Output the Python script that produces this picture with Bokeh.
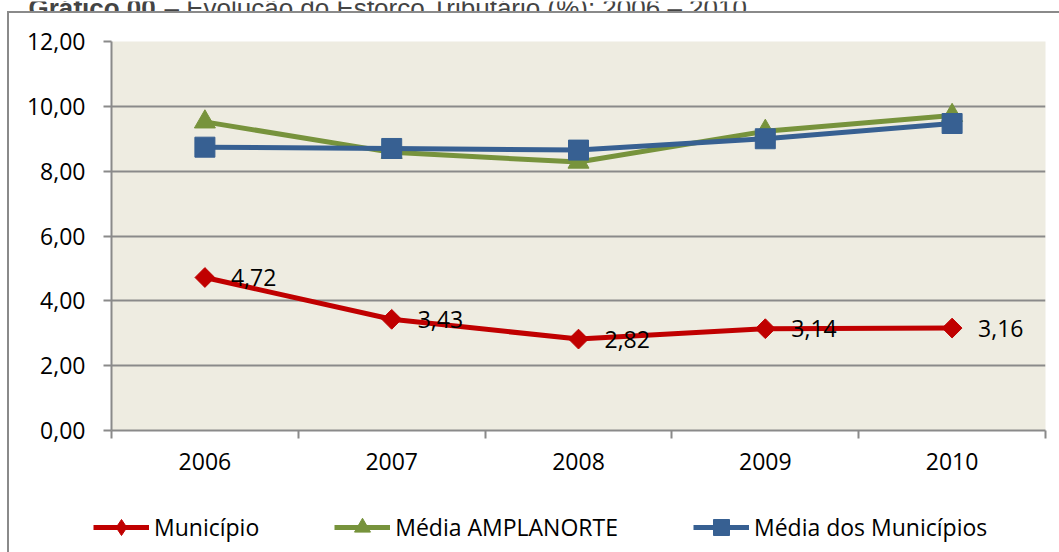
import numpy as np
from bokeh.plotting import figure
from bokeh.layouts import column
from bokeh.models import (Range1d, FixedTicker, Legend, LegendItem, ColumnDataSource, Label)
from bokeh.core.properties import value
from bokeh.embed import file_html
from bokeh.resources import INLINE

# ---- data ----
years = ["2006", "2007", "2008", "2009", "2010"]
municipio = [4.72, 3.43, 2.82, 3.14, 3.16]
amplanorte = [9.52, 8.58, 8.28, 9.23, 9.72]
media_mun = [8.74, 8.70, 8.65, 9.00, 9.47]
series_names = ["Município", "Média AMPLANORTE", "Média dos Municípios"]
y_ticks = [0, 2, 4, 6, 8, 10, 12]
y_tick_labels = ["0,00", "2,00", "4,00", "6,00", "8,00", "10,00", "12,00"]
title_bold = "Gráfico 00"
title_rest = "– Evolução do Esforço Tributário (%): 2006 – 2010"

FONT = "Open Sans"
GRAY = "#8a8a8a"
BG = "#EEECE1"
W = 1059
colors = ["#C00000", "#77933C", "#376092"]
markers = ["square", "triangle", "square"]
legend_markers = ["diamond", "triangle", "square"]
angles = [np.pi / 4, 0, 0]
sizes = [14, 21, 20]

# category slots: each year occupies one unit, centred at i + 0.5
x_pos = list(np.arange(len(years)) + 0.5)
x_edges = list(range(len(years) + 1))


def bare(height):
    f = figure(width=W, height=height, x_range=Range1d(0, 1), y_range=Range1d(0, 1),
               output_backend="svg", toolbar_location=None,
               x_axis_location=None, y_axis_location=None,
               min_border=0, min_border_left=0, min_border_right=0,
               min_border_top=0, min_border_bottom=0, frame_align=False)
    f.grid.visible = False
    f.outline_line_color = None
    f.background_fill_alpha = 0
    f.border_fill_alpha = 0
    return f


# ---- title strip (cut off at the top, as in the reference) ----
t = bare(11)
t.add_layout(Label(x=28, y=6, x_units="canvas", y_units="canvas", text=title_bold,
                   text_font="Liberation Sans", text_font_style="bold",
                   text_font_size="26px", text_baseline="alphabetic"))
t.add_layout(Label(x=164, y=6, x_units="canvas", y_units="canvas", text=title_rest,
                   text_font="Liberation Sans", text_font_size="26px",
                   text_baseline="alphabetic"))

# ---- main chart ----
p = figure(width=W, height=484,
           x_range=Range1d(0, len(years)),
           y_range=Range1d(0, 12),
           output_backend="svg", toolbar_location=None,
           min_border_left=111, min_border_right=14,
           min_border_top=30, min_border_bottom=65, frame_align=False)
p.background_fill_color = BG
p.border_fill_alpha = 0
p.outline_line_color = None
p.xgrid.visible = False

ya = p.yaxis[0]
ya.ticker = FixedTicker(ticks=y_ticks)
ya.major_label_overrides = dict(zip(y_ticks, y_tick_labels))
ya.axis_line_color = GRAY
ya.axis_line_width = 2
ya.major_tick_line_color = GRAY
ya.major_tick_line_width = 2
ya.major_tick_out = 8
ya.major_tick_in = 0
ya.minor_tick_line_color = None
ya.major_label_standoff = 18
ya.major_label_text_font = FONT
ya.major_label_text_font_size = "23px"
ya.major_label_text_color = "black"
p.ygrid.grid_line_color = GRAY
p.ygrid.grid_line_width = 2

xa = p.xaxis[0]
xa.ticker = FixedTicker(ticks=x_pos, minor_ticks=x_edges)
xa.major_label_overrides = dict(zip(x_pos, years))
xa.axis_line_color = GRAY
xa.axis_line_width = 2
xa.major_tick_line_color = None
xa.major_tick_out = 8
xa.major_tick_in = 0
xa.minor_tick_line_color = GRAY
xa.minor_tick_line_width = 2
xa.minor_tick_out = 8
xa.minor_tick_in = 0
xa.major_label_standoff = 14
xa.major_label_text_font = FONT
xa.major_label_text_font_size = "23px"
xa.major_label_text_color = "black"

values = [municipio, amplanorte, media_mun]
for vals, c, m, a, s in zip(values, colors, markers, angles, sizes):
    src = ColumnDataSource(dict(x=x_pos, y=vals))
    p.line("x", "y", source=src, line_color=c, line_width=5)
    p.scatter("x", "y", source=src, marker=m, size=s, angle=a,
              fill_color=c, line_color=c)

lab_src = ColumnDataSource(dict(x=x_pos, y=municipio,
                                t=[f"{v:.2f}".replace(".", ",") for v in municipio]))
p.text("x", "y", text="t", source=lab_src, x_offset=26,
       text_baseline="middle", text_align="left",
       text_font=value(FONT), text_font_size="23px", text_color="black")

# ---- legend strip (legend-only renderers: no visible data points) ----
lg = bare(57)
items = []
for name, c, m in zip(series_names, colors, legend_markers):
    nodata = ColumnDataSource(dict(x=[np.nan], y=[np.nan]))
    ln = lg.line("x", "y", source=nodata, line_color=c, line_width=5)
    sc = lg.scatter("x", "y", source=nodata, marker=m, size=16,
                    fill_color=c, line_color=c)
    items.append(LegendItem(label=name, renderers=[ln, sc]))
legend = Legend(items=items, orientation="horizontal", location=(93, 5),
                glyph_width=56, glyph_height=40, label_standoff=5, spacing=75,
                padding=0, margin=0, border_line_color=None,
                background_fill_alpha=0,
                label_text_font=FONT, label_text_font_size="23px",
                label_text_color="black", label_height=40)
lg.add_layout(legend, "center")

layout = column(t, p, lg, spacing=0)
# outer chart box: left and top border lines
layout.styles = {"background": (f"linear-gradient({GRAY},{GRAY}) 7px 11px / 2px 100% no-repeat, "
                                f"linear-gradient({GRAY},{GRAY}) 7px 11px / 100% 2px no-repeat, "
                                "#ffffff")}

open("out.html", "w").write(file_html(layout, INLINE))
